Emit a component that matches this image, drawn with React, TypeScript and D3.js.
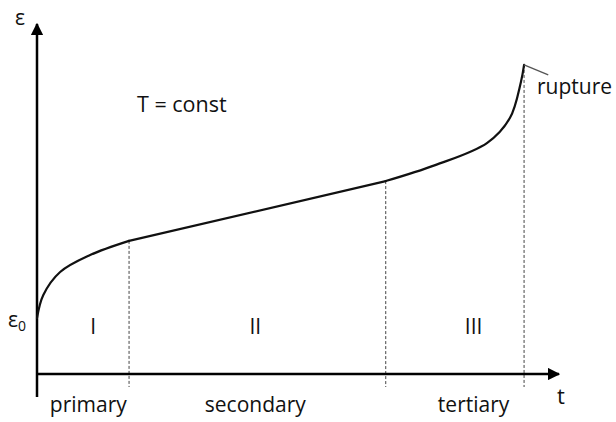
import React from "react";
import * as d3 from "d3";

// creep curve (t and strain in arbitrary units)
const curveT = [0, 0.12, 0.44, 1.01, 1.75, 6.63, 7.57, 8.56, 8.99, 9.2, 9.26];
const curveEps = [1.58, 2.23, 2.88, 3.36, 3.76, 5.45, 5.9, 6.53, 7.23, 8.25, 8.73];

// stage boundaries
const stageEnds = [1.75, 6.63, 9.26];
const stageNumerals = ["I", "II", "III"];
const stageNames = ["primary", "secondary", "tertiary"];
const stageCenters = [1.07, 4.15, 8.3];

const ruptureMark = [[9.26, 8.73], [9.72, 8.45]];

const W = 616;
const H = 422;
const font = "'Open Sans', 'Noto Sans', sans-serif";

export default function App() {
  const x = d3.scaleLinear().domain([0, 10]).range([37, 563]);
  const y = d3.scaleLinear().domain([0, 10]).range([374, 20]);

  const pts: [number, number][] = curveT.map((t, i) => [t, curveEps[i]]);
  const smooth = d3
    .line<[number, number]>()
    .x((d) => x(d[0]))
    .y((d) => y(d[1]))
    .curve(d3.curveCatmullRom.alpha(0.5));
  const straight = d3
    .line<[number, number]>()
    .x((d) => x(d[0]))
    .y((d) => y(d[1]));

  // primary and tertiary are curved, secondary is a straight run
  const primary = pts.filter((p) => p[0] <= stageEnds[0]);
  const secondary = pts.filter((p) => p[0] >= stageEnds[0] && p[0] <= stageEnds[1]);
  const tertiary = pts.filter((p) => p[0] >= stageEnds[1]);

  const epsAt = (t: number) => curveEps[curveT.indexOf(t)];

  return (
    <svg width={W} height={H} style={{ position: "absolute", left: 0, top: 0, background: "#fff" }}>
      <defs>
        <marker id="arr" viewBox="0 0 10 10" refX="9" refY="5" markerWidth="5" markerHeight="5" orient="auto">
          <path d="M0,0 L10,5 L0,10 z" fill="#000" />
        </marker>
      </defs>

      {/* stage dividers */}
      {stageEnds.map((t) => (
        <line
          key={t}
          x1={x(t)}
          x2={x(t)}
          y1={y(epsAt(t))}
          y2={y(0) + 13}
          stroke="#444"
          strokeWidth={1}
          strokeDasharray="3,2"
        />
      ))}

      {/* axes */}
      <line x1={x(0)} x2={x(0)} y1={y(0) + 23} y2={y(10) + 4} stroke="#000" strokeWidth={2.5} markerEnd="url(#arr)" />
      <line x1={x(0)} x2={x(10) - 4} y1={y(0)} y2={y(0)} stroke="#000" strokeWidth={2.5} markerEnd="url(#arr)" />

      {/* creep curve */}
      <g fill="none" stroke="#111" strokeWidth={2.2} strokeLinejoin="round" strokeLinecap="round">
        <path d={smooth(primary) ?? ""} />
        <path d={straight(secondary) ?? ""} />
        <path d={smooth(tertiary) ?? ""} />
      </g>
      <line
        x1={x(ruptureMark[0][0])}
        y1={y(ruptureMark[0][1])}
        x2={x(ruptureMark[1][0])}
        y2={y(ruptureMark[1][1])}
        stroke="#555"
        strokeWidth={1.3}
      />

      <g fontFamily={font} fill="#111">
        <text x={15} y={25} fontSize={21}>ε</text>
        <text x={8} y={327} fontSize={21}>
          ε<tspan fontSize={14} dy={4}>0</tspan>
        </text>
        <text x={137} y={112} fontSize={21.5}>T = const</text>
        <text x={537} y={94} fontSize={21}>rupture</text>
        <text x={557} y={404} fontSize={22}>t</text>
        {stageNumerals.map((s, i) => (
          <text key={s} x={x(stageCenters[i])} y={334} fontSize={21} textAnchor="middle">{s}</text>
        ))}
        {stageNames.map((s, i) => (
          <text key={s} x={x(stageCenters[i]) - (i === 0 ? 5 : 0)} y={412} fontSize={21} textAnchor="middle">{s}</text>
        ))}
      </g>
    </svg>
  );
}
